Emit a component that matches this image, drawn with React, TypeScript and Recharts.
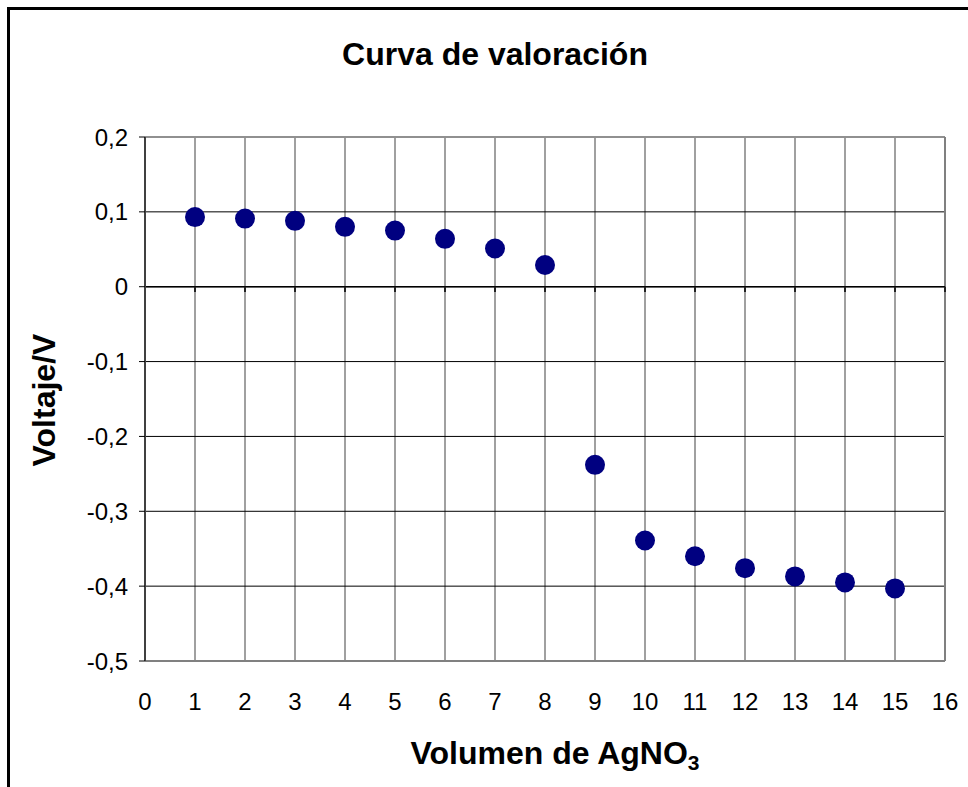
import React from 'react';
import {
  ScatterChart,
  Scatter,
  XAxis,
  YAxis,
  CartesianGrid,
  ReferenceLine,
} from 'recharts';

const volumes = [1, 2, 3, 4, 5, 6, 7, 8, 9, 10, 11, 12, 13, 14, 15];
const voltages = [
  0.093, 0.091, 0.088, 0.08, 0.075, 0.064, 0.051, 0.029, -0.238, -0.339, -0.36,
  -0.376, -0.387, -0.395, -0.403,
];
const xTicks = [0, 1, 2, 3, 4, 5, 6, 7, 8, 9, 10, 11, 12, 13, 14, 15, 16];
const yTicks = [-0.5, -0.4, -0.3, -0.2, -0.1, 0, 0.1, 0.2];

const title = 'Curva de valoración';
const xLabelMain = 'Volumen de AgNO';
const xLabelSub = '3';
const yLabel = 'Voltaje/V';

const data = volumes.map((v, i) => ({ x: v, y: voltages[i] }));

const FONT = 'Arial, "Liberation Sans", Helvetica, sans-serif';
const TICK_FS = 24;

const fmtY = (v: number) => {
  const r = Math.round(v * 10) / 10;
  if (r === 0) return '0';
  return r.toFixed(1).replace('.', ',');
};

const Dot = (props: any) => {
  const { cx, cy } = props;
  if (cx == null || cy == null) return null;
  return <circle cx={cx} cy={cy} r={10} fill="#000080" />;
};

const XTick = (props: any) => {
  const { x, y, payload } = props;
  return (
    <text
      x={x}
      y={y}
      dy="0.71em"
      textAnchor="middle"
      fontSize={TICK_FS}
      fontFamily={FONT}
      fill="#000"
    >
      {payload.value}
    </text>
  );
};

const YTick = (props: any) => {
  const { x, y, payload } = props;
  return (
    <text
      x={x}
      y={y}
      dy="0.36em"
      textAnchor="end"
      fontSize={TICK_FS}
      fontFamily={FONT}
      fill="#000"
    >
      {fmtY(payload.value)}
    </text>
  );
};

export default function App() {
  return (
    <div
      style={{
        position: 'absolute',
        left: 0,
        top: 0,
        width: 968,
        height: 787,
        overflow: 'hidden',
        background: '#fff',
        fontFamily: FONT,
      }}
    >
      <div
        style={{
          position: 'absolute',
          left: 7,
          top: 7,
          width: 1200,
          height: 1200,
          borderLeft: '3px solid #000',
          borderTop: '3px solid #000',
        }}
      />
      <div style={{ position: 'absolute', left: 0, top: 0 }}>
        <ScatterChart
          width={968}
          height={787}
          margin={{ top: 137, right: 23, bottom: 86, left: 85 }}
        >
          <CartesianGrid horizontal={false} vertical stroke="#808080" strokeWidth={1.5} />
          <CartesianGrid horizontal vertical={false} stroke="#000" strokeWidth={1} />
          <XAxis
            type="number"
            dataKey="x"
            domain={[0, 16]}
            ticks={xTicks}
            interval={0}
            allowDecimals={false}
            height={40}
            axisLine={{ stroke: '#808080', strokeWidth: 2 }}
            tickLine={false}
            tickSize={0}
            tickMargin={32}
            tick={<XTick />}
          />
          <YAxis
            type="number"
            dataKey="y"
            domain={[-0.5, 0.2]}
            ticks={yTicks}
            interval={0}
            width={60}
            axisLine={{ stroke: '#404040', strokeWidth: 2 }}
            tickLine={{ stroke: '#000', strokeWidth: 1 }}
            tickSize={6}
            tickMargin={11}
            tick={<YTick />}
          />
          <ReferenceLine y={0.2} stroke="#909090" strokeWidth={2} />
          <ReferenceLine x={16} stroke="#808080" strokeWidth={2} />
          <ReferenceLine y={0} stroke="#000" strokeWidth={1.5} />
          {xTicks.map((t) => (
            <ReferenceLine
              key={'zt' + t}
              segment={[
                { x: t, y: 0 },
                { x: t, y: -0.007 },
              ]}
              stroke="#222"
              strokeWidth={2}
            />
          ))}
          <Scatter data={data} shape={<Dot />} isAnimationActive={false} />
        </ScatterChart>
      </div>
      <svg
        width={968}
        height={787}
        style={{ position: 'absolute', left: 0, top: 0, pointerEvents: 'none' }}
      >
        <text
          x={495}
          y={65}
          textAnchor="middle"
          fontSize={32}
          fontWeight="bold"
          fontFamily={FONT}
          fill="#000"
        >
          {title}
        </text>
        <text
          x={555}
          y={764}
          textAnchor="middle"
          fontSize={32}
          fontWeight="bold"
          fontFamily={FONT}
          fill="#000"
        >
          {xLabelMain}
          <tspan fontSize={21} dy={6}>
            {xLabelSub}
          </tspan>
        </text>
        <text
          transform="translate(55, 400) rotate(-90)"
          textAnchor="middle"
          fontSize={32}
          fontWeight="bold"
          fontFamily={FONT}
          fill="#000"
        >
          {yLabel}
        </text>
      </svg>
    </div>
  );
}
